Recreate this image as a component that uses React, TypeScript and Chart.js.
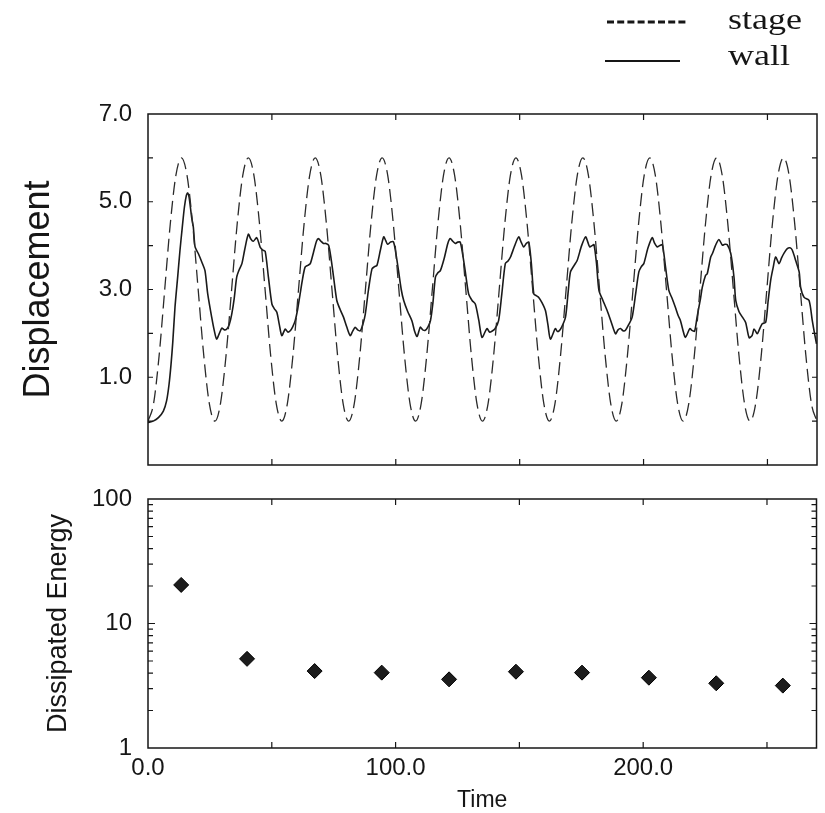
import React, { useEffect, useRef } from 'react';
import { Chart, registerables } from 'chart.js';

Chart.register(...registerables);

// ---------- data ----------
const STAGE_TIME = [
  0, 2.25, 4.5, 6.75, 9, 11.25, 13.5, 15.75, 18, 20.25, 22.5, 24.75,
  27, 29.25, 31.5, 33.75, 36, 38.25, 40.5, 42.75, 45, 47.25, 49.5, 51.75,
  54, 56.25, 58.5, 60.75, 63, 65.25, 67.5, 69.75, 72, 74.25, 76.5, 78.75,
  81, 83.25, 85.5, 87.75, 90, 92.25, 94.5, 96.75, 99, 101.25, 103.5, 105.75,
  108, 110.25, 112.5, 114.75, 117, 119.25, 121.5, 123.75, 126, 128.25, 130.5, 132.75,
  135, 137.25, 139.5, 141.75, 144, 146.25, 148.5, 150.75, 153, 155.25, 157.5, 159.75,
  162, 164.25, 166.5, 168.75, 171, 173.25, 175.5, 177.75, 180, 182.25, 184.5, 186.75,
  189, 191.25, 193.5, 195.75, 198, 200.25, 202.5, 204.75, 207, 209.25, 211.5, 213.75,
  216, 218.25, 220.5, 222.75, 225, 227.25, 229.5, 231.75, 234, 236.25, 238.5, 240.75,
  243, 245.25, 247.5, 249.75, 252, 254.25, 256.5, 258.75, 261, 263.25, 265.5, 267.75,
  270,
];
const STAGE_DISP = [
  0, 0.4, 1.5, 3, 4.5, 5.6, 6, 5.6, 4.5, 3, 1.5, 0.4,
  0, 0.4, 1.5, 3, 4.5, 5.6, 6, 5.6, 4.5, 3, 1.5, 0.4,
  0, 0.4, 1.5, 3, 4.5, 5.6, 6, 5.6, 4.5, 3, 1.5, 0.4,
  0, 0.4, 1.5, 3, 4.5, 5.6, 6, 5.6, 4.5, 3, 1.5, 0.4,
  0, 0.4, 1.5, 3, 4.5, 5.6, 6, 5.6, 4.5, 3, 1.5, 0.4,
  0, 0.4, 1.5, 3, 4.5, 5.6, 6, 5.6, 4.5, 3, 1.5, 0.4,
  0, 0.4, 1.5, 3, 4.5, 5.6, 6, 5.6, 4.5, 3, 1.5, 0.4,
  0, 0.4, 1.5, 3, 4.5, 5.6, 6, 5.6, 4.5, 3, 1.5, 0.4,
  0, 0.4, 1.5, 3, 4.5, 5.6, 6, 5.6, 4.5, 3, 1.5, 0.4,
  0, 0.4, 1.5, 3, 4.5, 5.6, 6, 5.6, 4.5, 3, 1.5, 0.4,
  0,
];

const WALL_TIME = [
  0, 2.1, 4.2, 6.2, 7.5, 8.5, 9.3, 10.0, 10.9, 12.0, 12.9, 13.8, 14.7, 15.5, 16.0, 16.6, 17.6, 18.3, 19.0, 20.3, 21.9, 23.0, 24.1, 25.7, 26.8, 27.7,
  28.8, 29.8, 30.8, 31.8, 32.8, 33.8, 34.8, 35.8, 36.8, 37.9, 39.0, 40.5, 41.5, 42.5, 43.9, 45.3, 46.3, 47.3, 48.6, 50.0, 51.0, 52.0, 53.0, 54.0,
  55.4, 56.4, 57.4, 58.4, 59.4, 60.4, 61.4, 62.4, 63.4, 64.5, 65.5, 66.8, 68.0, 68.8, 69.8, 70.8, 71.8, 72.9, 73.9, 74.9, 76.2, 77.5, 78.9, 80.2, 81.6,
  82.6, 83.6, 84.6, 85.7, 86.7, 87.7, 89.0, 90.4, 91.4, 92.4, 93.8, 95.1, 95.9, 96.7, 97.9, 99.1, 100.1, 101.1, 102.2, 103.2, 104.8, 106.5, 107.6, 108.6,
  109.9, 110.9, 111.9, 113.0, 114.0, 115.0, 116.0, 117.0, 118.0, 119.5, 121.0, 122.0, 123.0, 124.0, 125.0, 126.0, 127.0, 128.0, 129.4, 130.8, 132.1, 133.5, 134.8,
  136.8, 137.8, 138.8, 140.0, 141.5, 142.8, 144.2, 145.3, 146.3, 148.0, 149.6, 150.6, 151.6, 152.7, 153.7, 154.7, 155.7, 156.7, 157.7, 159.0, 160.4, 161.4, 162.4,
  164.4, 165.1, 165.8, 167.0, 168.5, 169.5, 170.5, 172.0, 173.2, 175.0, 176.6, 177.5, 178.3, 179.2, 180.0, 181.0, 182.0, 183.6, 185.3, 187.0, 188.7,
  189.7, 190.7, 191.7, 192.7, 194.0, 195.4, 196.8, 198.1, 199.1, 200.1, 201.8, 203.5, 204.5, 205.5, 206.5, 207.6, 208.9, 210.2, 211.5, 212.8, 214.0, 214.9, 216.0, 216.9,
  218.7, 219.5, 220.6, 221.6, 223.0, 223.7, 225.0, 225.7, 227.1, 227.8, 229.0, 230.4, 231.8, 232.8, 233.8, 235.2, 236.5, 237.2, 238.5, 239.9, 241.2, 242.6,
  243.8, 244.6, 245.9, 246.6, 247.9, 249.3, 250.3, 251.3, 252.3, 253.3, 254.7, 255.7, 256.7, 258.0, 259.1, 260.0, 261.4, 262.8, 263.4, 264.8, 266.8, 268.1, 269.0, 269.8,
];
const WALL_DISP = [
  -0.03, 0.0, 0.08, 0.23, 0.46, 0.84, 1.3, 1.8, 2.6, 3.3, 3.89, 4.4, 4.88, 5.15, 5.2, 5.1, 4.65, 4.42, 3.97, 3.82, 3.6, 3.43, 2.9, 2.37, 2.05, 1.87,
  2.0, 2.12, 2.08, 2.10, 2.2, 2.44, 2.8, 3.28, 3.45, 3.59, 3.9, 4.26, 4.15, 4.1, 4.18, 3.96, 3.9, 3.87, 3.28, 2.67, 2.56, 2.48, 2.2, 1.95,
  2.10, 2.03, 2.06, 2.15, 2.29, 2.55, 2.90, 3.25, 3.51, 3.55, 3.59, 3.85, 4.1, 4.16, 4.1, 4.05, 4.05, 4.01, 3.7, 3.28, 2.75, 2.55, 2.37, 2.15, 1.95,
  2.05, 2.14, 2.08, 2.06, 2.2, 2.44, 3.0, 3.47, 3.52, 3.55, 3.9, 4.20, 4.12, 4.03, 4.08, 4.08, 3.8, 3.43, 3.0, 2.75, 2.5, 2.29, 2.05, 1.93,
  2.14, 2.08, 2.07, 2.15, 2.29, 2.7, 3.28, 3.38, 3.43, 3.7, 4.05, 4.16, 4.1, 4.05, 4.08, 4.08, 3.8, 3.43, 2.90, 2.75, 2.67, 2.3, 1.91,
  2.11, 2.03, 2.05, 2.1, 2.29, 2.9, 3.59, 3.65, 3.74, 4.0, 4.20, 4.08, 3.97, 4.05, 4.08, 3.6, 2.90, 2.86, 2.82, 2.7, 2.52, 2.2, 1.87,
  2.11, 2.05, 2.05, 2.15, 2.37, 2.9, 3.40, 3.55, 3.66, 4.0, 4.20, 4.08, 3.97, 4.0, 4.02, 3.6, 2.98, 2.75, 2.52, 2.25, 1.99,
  2.08, 2.11, 2.06, 2.07, 2.2, 2.37, 2.9, 3.40, 3.52, 3.59, 3.95, 4.18, 4.05, 3.97, 4.0, 4.02, 3.5, 2.98, 2.8, 2.6, 2.4, 2.29, 2.05, 1.91,
  2.11, 2.07, 2.05, 2.37, 2.8, 3.05, 3.32, 3.36, 3.74, 3.82, 4.0, 4.14, 4.01, 4.03, 4.02, 3.82, 3.28, 2.75, 2.5, 2.37, 2.25, 1.9,
  1.95, 2.10, 1.99, 2.07, 2.22, 2.25, 2.75, 3.21, 3.5, 3.74, 3.59, 3.72, 3.83, 3.93, 3.95, 3.9, 3.66, 3.4, 3.05, 2.82, 2.75, 2.29, 2.0, 1.76,
];

const CYCLE_TIME = [13.4, 40.0, 67.3, 94.4, 121.6, 148.6, 175.3, 202.3, 229.5, 256.4];
const DISSIPATED_ENERGY = [20.4, 5.2, 4.15, 4.03, 3.56, 4.1, 4.03, 3.67, 3.31, 3.17];

const TIME_TICKS = [0, 50, 100, 150, 200, 250];
const TIME_LABELS = [0, 100, 200];
const DISP_TICKS = [-1, 0, 1, 2, 3, 4, 5, 6, 7];
const DISP_LABELS = [1, 3, 5, 7];
const ENERGY_TICKS = [1, 2, 3, 4, 5, 6, 7, 8, 9, 10, 20, 30, 40, 50, 60, 70, 80, 90, 100];
const ENERGY_LABELS = [1, 10, 100];

const SANS = '"Liberation Sans", Arial, Helvetica, sans-serif';
const SERIF = '"Liberation Serif", "Times New Roman", serif';
const INK = '#161616';

// ---------- plugins ----------
const frameTicks = {
  id: 'frameTicks',
  afterDatasetsDraw(chart: any, _args: any, opts: any) {
    const { ctx, chartArea } = chart;
    const { left, right, top, bottom } = chartArea;
    const xs = chart.scales.x;
    const ys = chart.scales.y;
    ctx.save();
    ctx.strokeStyle = INK;
    ctx.lineWidth = 1.2;
    ctx.beginPath();
    for (const t of xs.ticks) {
      const p = xs.getPixelForValue(t.value);
      if (p <= left + 2 || p >= right - 2) continue;
      ctx.moveTo(p, bottom);
      ctx.lineTo(p, bottom - opts.xLen);
      ctx.moveTo(p, top);
      ctx.lineTo(p, top + opts.xLen);
    }
    for (const t of ys.ticks) {
      const p = ys.getPixelForValue(t.value);
      if (p <= top + 2 || p >= bottom - 2) continue;
      const len = (opts.yMajor || []).includes(t.value) ? opts.yMajorLen : opts.yLen;
      ctx.moveTo(left, p);
      ctx.lineTo(left + len, p);
      ctx.moveTo(right, p);
      ctx.lineTo(right - len, p);
    }
    ctx.stroke();
    ctx.lineWidth = 1.5;
    ctx.strokeRect(left, top, right - left, bottom - top);
    ctx.restore();
  },
};

const cornerLegend = {
  id: 'cornerLegend',
  afterDraw(chart: any, _args: any, opts: any) {
    const ctx = chart.ctx;
    chart.data.datasets.forEach((ds: any, i: number) => {
      const it = opts.items[i];
      if (!it) return;
      ctx.save();
      ctx.strokeStyle = INK;
      ctx.lineWidth = it.width;
      ctx.setLineDash(it.dash);
      ctx.beginPath();
      ctx.moveTo(it.x0, it.y);
      ctx.lineTo(it.x1, it.y);
      ctx.stroke();
      ctx.setLineDash([]);
      ctx.fillStyle = INK;
      ctx.font = `${opts.fontSize}px ${SERIF}`;
      ctx.textBaseline = 'alphabetic';
      ctx.textAlign = 'left';
      ctx.translate(opts.textX, it.baseline);
      ctx.scale(opts.stretch, 1);
      ctx.fillText(ds.label, 0, 0);
      ctx.restore();
    });
  },
};

function pairs(xs: number[], ys: number[]) {
  const n = Math.min(xs.length, ys.length);
  const out: { x: number; y: number }[] = [];
  for (let i = 0; i < n; i++) out.push({ x: xs[i], y: ys[i] });
  return out;
}

function noPad(s: any) {
  s.paddingTop = 0;
  s.paddingBottom = 0;
  s.paddingLeft = 0;
  s.paddingRight = 0;
}

export default function App() {
  const topRef = useRef<HTMLCanvasElement | null>(null);
  const botRef = useRef<HTMLCanvasElement | null>(null);

  useEffect(() => {
    Chart.defaults.color = INK;
    Chart.defaults.font.family = SANS;

    const top = new Chart(topRef.current as HTMLCanvasElement, {
      type: 'line',
      data: {
        datasets: [
          {
            label: 'stage',
            data: pairs(STAGE_TIME, STAGE_DISP),
            borderColor: '#2a2a2a',
            borderWidth: 1.3,
            borderDash: [13, 6],
            pointRadius: 0,
            cubicInterpolationMode: 'monotone',
            fill: false,
          },
          {
            label: 'wall',
            data: pairs(WALL_TIME, WALL_DISP),
            borderColor: '#1a1a1a',
            borderWidth: 1.6,
            pointRadius: 0,
            tension: 0.25,
            fill: false,
          },
        ],
      },
      options: {
        responsive: false,
        animation: false,
        layout: { padding: { top: 114, right: 8, left: 0, bottom: 0 } },
        plugins: {
          legend: { display: false },
          tooltip: { enabled: false },
          frameTicks: { xLen: 6, yLen: 5, yMajorLen: 5, yMajor: [] },
          cornerLegend: {
            fontSize: 30,
            stretch: 1.2,
            textX: 728,
            items: [
              { x0: 607, x1: 686, y: 22, width: 3, dash: [7, 3.2], baseline: 29 },
              { x0: 605, x1: 680, y: 61, width: 2, dash: [], baseline: 65 },
            ],
          },
        } as any,
        scales: {
          x: {
            type: 'linear',
            min: 0,
            max: 270,
            afterBuildTicks: (s: any) => {
              s.ticks = TIME_TICKS.map((v) => ({ value: v }));
            },
            ticks: { display: false },
            grid: { display: false, drawTicks: false },
            border: { display: false },
            afterFit: (s: any) => {
              s.height = 13;
              noPad(s);
            },
          },
          y: {
            type: 'linear',
            min: -1,
            max: 7,
            afterBuildTicks: (s: any) => {
              s.ticks = DISP_TICKS.map((v) => ({ value: v }));
            },
            ticks: {
              autoSkip: false,
              padding: 16,
              color: INK,
              font: { size: 24, family: SANS },
              callback: (v: any) => (DISP_LABELS.includes(Number(v)) ? Number(v).toFixed(1) : ''),
            },
            grid: { display: false, drawTicks: false },
            border: { display: false },
            title: {
              display: true,
              text: 'Displacement',
              color: INK,
              font: { size: 36, family: SANS },
              padding: { top: 17, bottom: 0 },
            },
            afterFit: (s: any) => {
              s.width = 148;
              noPad(s);
            },
          },
        },
      } as any,
      plugins: [frameTicks, cornerLegend],
    });

    const bot = new Chart(botRef.current as HTMLCanvasElement, {
      type: 'scatter',
      data: {
        datasets: [
          {
            label: 'Dissipated Energy',
            data: pairs(CYCLE_TIME, DISSIPATED_ENERGY),
            pointStyle: 'rectRot',
            pointRadius: 7.5,
            backgroundColor: '#1c1c1c',
            borderColor: '#000',
            borderWidth: 1,
            showLine: false,
          },
        ],
      },
      options: {
        responsive: false,
        animation: false,
        layout: { padding: { top: 21, right: 8, left: 0, bottom: 0 } },
        plugins: {
          legend: { display: false },
          tooltip: { enabled: false },
          frameTicks: { xLen: 6, yLen: 5, yMajorLen: 7, yMajor: [10] },
        } as any,
        scales: {
          x: {
            type: 'linear',
            min: 0,
            max: 270,
            afterBuildTicks: (s: any) => {
              s.ticks = TIME_TICKS.map((v) => ({ value: v }));
            },
            ticks: {
              autoSkip: false,
              maxRotation: 0,
              padding: 6,
              color: INK,
              font: { size: 24, family: SANS },
              callback: (v: any) => (TIME_LABELS.includes(Number(v)) ? Number(v).toFixed(1) : ''),
            },
            grid: { display: false, drawTicks: false },
            border: { display: false },
            title: {
              display: true,
              text: 'Time',
              color: INK,
              font: { size: 23, family: SANS, lineHeight: 1.05 },
              padding: { top: 0, bottom: 0 },
            },
            afterFit: (s: any) => {
              s.height = 65;
              noPad(s);
            },
          },
          y: {
            type: 'logarithmic',
            min: 1,
            max: 100,
            afterBuildTicks: (s: any) => {
              s.ticks = ENERGY_TICKS.map((v) => ({ value: v }));
            },
            ticks: {
              autoSkip: false,
              padding: 16,
              color: INK,
              font: { size: 24, family: SANS },
              callback: (v: any) => (ENERGY_LABELS.includes(Number(v)) ? String(v) : ''),
            },
            grid: { display: false, drawTicks: false },
            border: { display: false },
            title: {
              display: true,
              text: 'Dissipated Energy',
              color: INK,
              font: { size: 27, family: SANS },
              padding: { top: 42, bottom: 0 },
            },
            afterFit: (s: any) => {
              s.width = 148;
              noPad(s);
            },
          },
        },
      } as any,
      plugins: [frameTicks],
    });

    return () => {
      top.destroy();
      bot.destroy();
    };
  }, []);

  return (
    <div style={{ position: 'absolute', left: 0, top: 0, width: 825, height: 813, background: '#fff' }}>
      <canvas ref={topRef} width={825} height={478} style={{ position: 'absolute', left: 0, top: 0 }} />
      <canvas ref={botRef} width={825} height={335} style={{ position: 'absolute', left: 0, top: 478 }} />
    </div>
  );
}
